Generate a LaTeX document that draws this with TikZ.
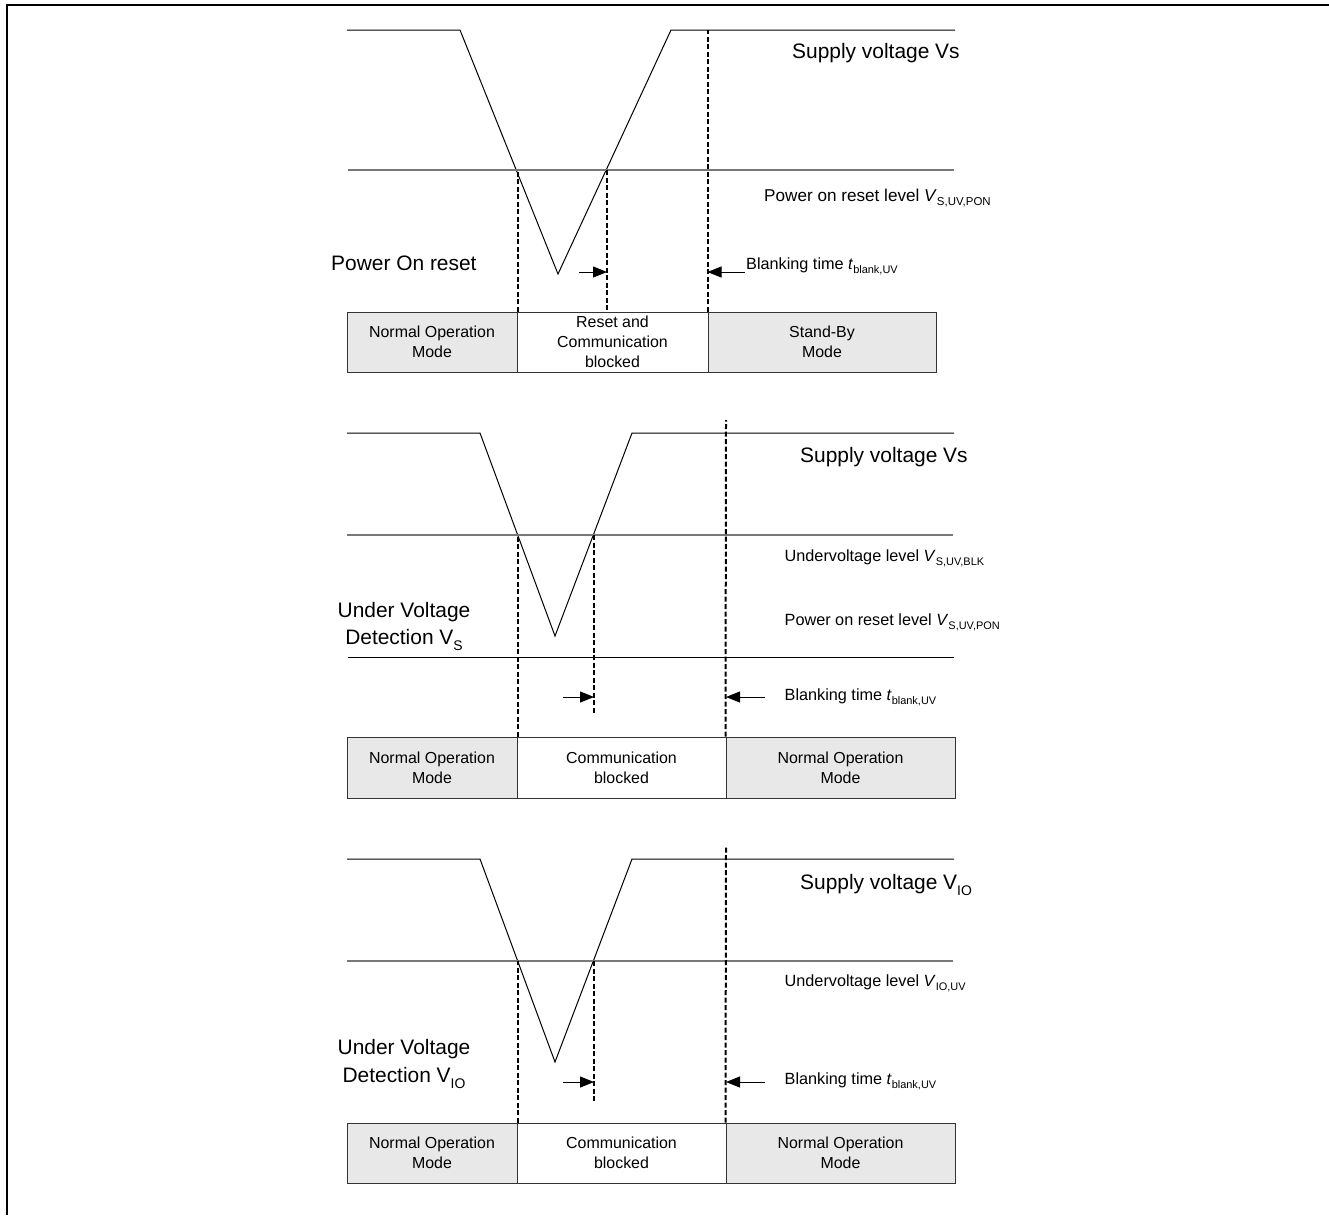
\documentclass[tikz,border=0pt]{standalone}
\usepackage{fontspec}
\setmainfont{Liberation Sans}
\usetikzlibrary{arrows.meta,positioning}

\definecolor{cellgray}{RGB}{232,232,232}
\definecolor{levelgray}{RGB}{120,120,120}

\newcommand{\lowsub}[2][11]{\raisebox{-0.55ex}{\fontsize{#1}{#1}\selectfont #2}}

\begin{document}
\begin{tikzpicture}[
    x=1bp, y=-1bp,
    wave_style/.style={line width=1bp},
    level_style/.style={line width=1.2bp, draw=levelgray},
    mark_style/.style={line width=2bp, dash pattern=on 5bp off 2.5bp},
    blank_arrow_style/.style={line width=1bp, -{Triangle[length=14bp,width=11bp]}},
    mode_cell_style/.style={draw=black!80, line width=1bp, inner sep=0pt, align=center,
        font=\fontsize{16}{20}\selectfont},
    big_label_style/.style={anchor=base west, inner sep=0pt, font=\fontsize{21}{25}\selectfont},
    small_label_style/.style={anchor=base west, inner sep=0pt, font=\fontsize{16.3}{20}\selectfont},
    side_label_style/.style={anchor=base, inner sep=0pt, font=\fontsize{21}{25}\selectfont}
]
\useasboundingbox (0,0) rectangle (1329,1215);
\draw[line width=1.5bp] (7,1215) -- (7,5) -- (1329,5);

% Panel 1: power on reset
\coordinate (p1_start) at (347,30);
\coordinate (p1_fall) at (460,30);
\coordinate (p1_min) at (558,274);
\coordinate (p1_rise) at (671,30);
\coordinate (p1_end) at (955,30);
\draw[wave_style] (p1_start) -- (p1_fall) -- (p1_min) -- (p1_rise) -- (p1_end);
\draw[level_style] (348,170) -- (954,170);
\coordinate (p1_down) at (517,170);
\coordinate (p1_up) at (607,170);

\node[mode_cell_style, fill=cellgray, minimum width=170bp, minimum height=60bp] (p1_normal) at (432,342) {Normal Operation\\Mode};
\node[mode_cell_style, fill=white, minimum width=191bp, minimum height=60bp] (p1_reset) at (612.5,342) {Reset and\\Communication\\blocked};
\node[mode_cell_style, fill=cellgray, minimum width=228bp, minimum height=60bp] (p1_standby) at (822,342) {Stand-By\\Mode};

\draw[mark_style] (p1_normal.north east) -- (p1_normal.north east |- p1_down);
\draw[mark_style] (p1_up) -- (p1_up |- p1_reset.north);
\draw[mark_style] (p1_standby.north west) -- (p1_standby.north west |- p1_start);

\coordinate (p1_arr_a) at (579,272);
\coordinate (p1_arr_b) at (745,272);
\draw[blank_arrow_style] (p1_arr_a) -- (p1_arr_a -| p1_up);
\draw[blank_arrow_style] (p1_arr_b) -- (p1_arr_b -| p1_standby.north west);

\node[big_label_style] (p1_supply) at (792,58) {Supply voltage Vs};
\node[small_label_style, font=\fontsize{17.2}{20}\selectfont] (p1_pon) at (764,201) {Power on reset level \textit{V}\lowsub[11.5]{S,UV,PON}};
\node[small_label_style] (p1_blank) at (746,269) {Blanking time \textit{t}\lowsub{blank,UV}};
\node[big_label_style] (p1_title) at (331,270) {Power On reset};

% Panel 2: under voltage detection Vs
\coordinate (p2_start) at (347,433);
\coordinate (p2_fall) at (480,433);
\coordinate (p2_min) at (555,636);
\coordinate (p2_rise) at (632,433);
\coordinate (p2_end) at (954,433);
\draw[wave_style] (p2_start) -- (p2_fall) -- (p2_min) -- (p2_rise) -- (p2_end);
\draw[level_style] (347,535) -- (953,535);
\draw[wave_style] (348,657) -- (954,657);
\coordinate (p2_down) at (517,535);
\coordinate (p2_up) at (594,535);
\coordinate (p2_top_mark) at (726,420);

\node[mode_cell_style, fill=cellgray, minimum width=170bp, minimum height=61bp] (p2_normal_a) at (432,767.5) {Normal Operation\\Mode};
\node[mode_cell_style, fill=white, minimum width=209bp, minimum height=61bp] (p2_blocked) at (621.5,767.5) {Communication\\blocked};
\node[mode_cell_style, fill=cellgray, minimum width=229bp, minimum height=61bp] (p2_normal_b) at (840.5,767.5) {Normal Operation\\Mode};

\draw[mark_style] (p2_normal_a.north east) -- (p2_normal_a.north east |- p2_down);
\draw[mark_style] (p2_up) -- (594,715);
\draw[mark_style] (p2_normal_b.north west) -- (p2_top_mark);

\coordinate (p2_arr_a) at (563,697);
\coordinate (p2_arr_b) at (765,697);
\draw[blank_arrow_style] (p2_arr_a) -- (p2_arr_a -| p2_up);
\draw[blank_arrow_style] (p2_arr_b) -- (p2_arr_b -| p2_top_mark);

\node[big_label_style] (p2_supply) at (800,462) {Supply voltage Vs};
\node[small_label_style] (p2_blk) at (784.5,561) {Undervoltage level \textit{V}\lowsub{S,UV,BLK}};
\node[small_label_style] (p2_pon) at (784.5,625) {Power on reset level \textit{V}\lowsub{S,UV,PON}};
\node[small_label_style] (p2_blank) at (784.5,700) {Blanking time \textit{t}\lowsub{blank,UV}};
\node[side_label_style] (p2_title_a) at (404,617) {Under Voltage};
\node[side_label_style] (p2_title_b) at (404,644) {Detection V\lowsub[14]{S}};

% Panel 3: under voltage detection VIO
\coordinate (p3_start) at (347,859);
\coordinate (p3_fall) at (480,859);
\coordinate (p3_min) at (555,1062);
\coordinate (p3_rise) at (632,859);
\coordinate (p3_end) at (954,859);
\draw[wave_style] (p3_start) -- (p3_fall) -- (p3_min) -- (p3_rise) -- (p3_end);
\draw[level_style] (347,961) -- (953,961);
\coordinate (p3_down) at (517,961);
\coordinate (p3_up) at (594,961);
\coordinate (p3_top_mark) at (726,847);

\node[mode_cell_style, fill=cellgray, minimum width=170bp, minimum height=60bp] (p3_normal_a) at (432,1153) {Normal Operation\\Mode};
\node[mode_cell_style, fill=white, minimum width=209bp, minimum height=60bp] (p3_blocked) at (621.5,1153) {Communication\\blocked};
\node[mode_cell_style, fill=cellgray, minimum width=229bp, minimum height=60bp] (p3_normal_b) at (840.5,1153) {Normal Operation\\Mode};

\draw[mark_style] (p3_normal_a.north east) -- (p3_normal_a.north east |- p3_down);
\draw[mark_style] (p3_up) -- (594,1103);
\draw[mark_style] (p3_normal_b.north west) -- (p3_top_mark);

\coordinate (p3_arr_a) at (563,1082);
\coordinate (p3_arr_b) at (765,1082);
\draw[blank_arrow_style] (p3_arr_a) -- (p3_arr_a -| p3_up);
\draw[blank_arrow_style] (p3_arr_b) -- (p3_arr_b -| p3_top_mark);

\node[big_label_style] (p3_supply) at (800,889) {Supply voltage V\lowsub[14]{IO}};
\node[small_label_style] (p3_uv) at (784.5,986) {Undervoltage level \textit{V}\lowsub{IO,UV}};
\node[small_label_style] (p3_blank) at (784.5,1084) {Blanking time \textit{t}\lowsub{blank,UV}};
\node[side_label_style] (p3_title_a) at (404,1054) {Under Voltage};
\node[side_label_style] (p3_title_b) at (404,1082) {Detection V\lowsub[14]{IO}};

\end{tikzpicture}
\end{document}
